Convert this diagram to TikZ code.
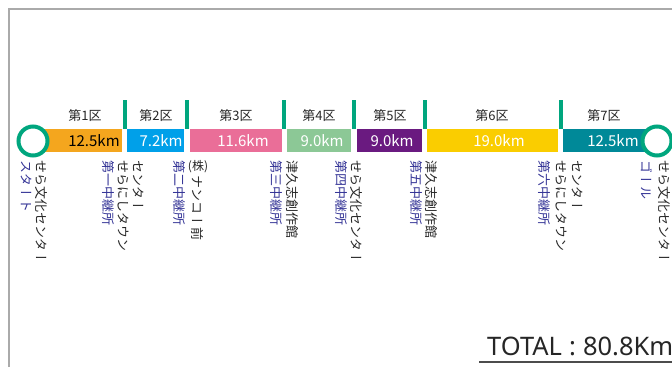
\documentclass[tikz,border=0pt]{standalone}
\usepackage{fontspec}
\setmainfont{Noto Sans CJK JP}
\newfontfamily\tatefont[Vertical=RotatedGlyphs]{Noto Sans CJK JP}
\newfontfamily\totalfont{Noto Sans}
\usetikzlibrary{positioning, calc}
\definecolor{ringgreen}{RGB}{0,166,126}
\definecolor{relayblue}{RGB}{52,52,150}
\definecolor{framegray}{RGB}{170,170,170}
\definecolor{segA}{RGB}{244,166,30}
\definecolor{segB}{RGB}{0,160,233}
\definecolor{segC}{RGB}{234,110,152}
\definecolor{segD}{RGB}{140,200,150}
\definecolor{segE}{RGB}{106,26,128}
\definecolor{segF}{RGB}{250,205,0}
\definecolor{segG}{RGB}{0,137,152}

\begin{document}
\begin{tikzpicture}[x=1pt, y=-1pt,
    ku/.style={font=\fontsize{13}{13}\selectfont, text=black!85, inner sep=0pt},
    dist/.style={font=\fontsize{15}{15}\selectfont, inner sep=0pt},
    tate/.style={rotate=-90, anchor=west, inner sep=0pt, font=\fontsize{13}{13}\tatefont},
    chukei/.style={tate, text=relayblue},
    basho/.style={tate, text=black!85},
    ring/.style={circle, draw=ringgreen, line width=4pt, fill=white, minimum size=29pt, inner sep=0pt}]
  \useasboundingbox (0,0) rectangle (672,367);
  % frame of the page
  \draw[framegray, line width=1.6pt] (9,367) -- (9,9) -- (672,9);

  % the seven legs: from/to/colour/text colour/text x/label x/distance/number
  \foreach \xa/\xb/\col/\tcol/\tx/\kx/\dist/\num in {
      33/122/segA/black/94/85/12.5km/1,
      127/184/segB/white/161/156/7.2km/2,
      190/282/segC/white/243/236/11.6km/3,
      287/351/segD/white/322/319/9.0km/4,
      357/422/segE/white/392/390/9.0km/5,
      427/558/segF/white/499/492/19.0km/6,
      563/657/segG/white/613/604/12.5km/7}{
    \fill[\col] (\xa,129) rectangle (\xb,152);
    \node[dist, text=\tcol] (km\num) at (\tx,141) {\dist};
    \node[ku] (ku\num) at (\kx,116) {第\num{}区};
  }

  % relay marks between the legs
  \foreach \tk in {125,187,284,354,424.5,561}
    \fill[ringgreen] (\tk-2,100) rectangle (\tk+2,129);

  % start and goal
  \node[ring] (start) at (33,141) {};
  \node[ring] (goal) at (657,141) {};

  % station names, written top to bottom
  \foreach \x/\txt/\sty/\nm in {
      26/スタート/chukei/s0a, 41/せら文化センター/basho/s0b,
      108/第一中継所/chukei/s1a, 123/せらにしタウン/basho/s1b, 138/センター/basho/s1c,
      179/第二中継所/chukei/s2a,
      276/第三中継所/chukei/s3a, 292/津久志創作館/basho/s3b,
      341/第四中継所/chukei/s4a, 356/せら文化センター/basho/s4b,
      416/第五中継所/chukei/s5a, 431/津久志創作館/basho/s5b,
      544/第六中継所/chukei/s6a, 561/せらにしタウン/basho/s6b, 577/センター/basho/s6c,
      647/ゴール/chukei/s7a, 664/せら文化センター/basho/s7b}
    \node[\sty] (\nm) at (\x,160) {\txt};
  \node[font=\fontsize{12}{12}\selectfont, text=black!85, inner sep=0pt] (kabu) at (198,167) {(株)};
  \node[basho] (s2b) at (197,175) {ナンコー前};

  % total distance
  \node[font=\fontsize{25.5}{26}\totalfont, text=black!85, inner sep=0pt, anchor=base west] (total) at (487,355) {TOTAL\;:\;80.8Km};
  \draw[black!70, line width=1.8pt] (479,362) -- (672,362);
\end{tikzpicture}
\end{document}
